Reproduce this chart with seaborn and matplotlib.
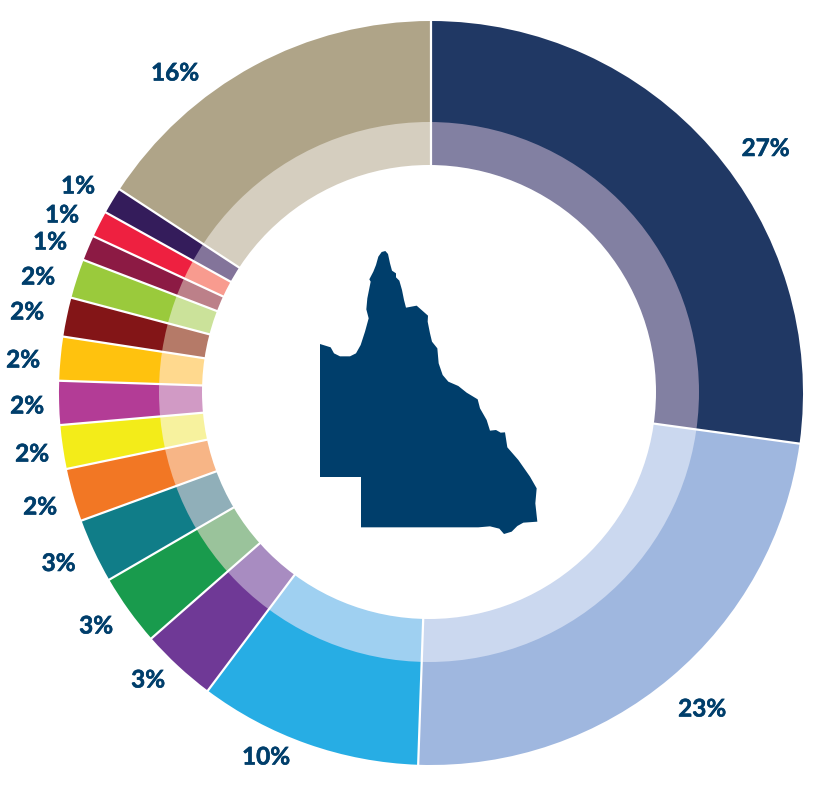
import numpy as np
import matplotlib
matplotlib.use("Agg")
import matplotlib.pyplot as plt
import matplotlib.patheffects as pe
from matplotlib.patches import Circle
import seaborn as sns

# ---- data ----
shares = [27.2, 23.4, 9.7, 3.3, 3.1, 2.8, 2.3, 1.9, 1.9, 1.9, 1.7, 1.7, 1.1, 1.15, 1.15, 15.8]
labels = ["27%", "23%", "10%", "3%", "3%", "3%", "2%", "2%", "2%", "2%", "2%", "2%", "1%", "1%", "1%", "16%"]
outer_colors = ["#203864", "#9FB7DF", "#27ADE4", "#6F3996", "#199B4D", "#107D88", "#F27724", "#F3EC19",
                "#B33C96", "#FFC20E", "#831517", "#9ACA3C", "#8C1A44", "#EE2040", "#341C5B", "#AFA488"]
inner_colors = ["#8280A2", "#CBD8EF", "#9FD0F1", "#A88CC1", "#9AC39B", "#90AFB9", "#F7B586", "#F7F29E",
                "#D19AC5", "#FFD98E", "#B57A68", "#CBE29A", "#BC8089", "#F89B8F", "#83749A", "#D5CEBF"]

# ---- layout (pixels of the 815x791 picture) ----
W, H = 815, 791
CX, CY = 431, 393          # centre of the outer ring
CX2, CY2 = 429, 392        # the pale ring sits slightly off-centre
R_OUT, R_MID, R_IN = 372, 270, 227
label_xy = [(765.5, 148.5), (702, 709), (266, 757), (148, 680), (96, 626), (58.5, 563.5), (40, 507), (32, 454),
            (27, 406), (23, 360), (27, 312), (38, 277), (50, 242), (62, 215), (78, 186), (175, 73)]
NAVY = "#003E6B"
# outline of Queensland
outline = [(30,312),(62,322),(72,340),(90,349),(120,349),(138,340),(152,315),(165,275),(176,235),(169,208),
           (172,175),(182,125),(178,118),(190,95),(198,75),(205,50),(215,36),(226,33),(234,42),(240,70),
           (246,92),(258,100),(258,112),(268,122),(276,150),(282,180),(288,203),(320,197),(354,227),(353,245),
           (360,280),(366,305),(382,325),(386,370),(398,405),(415,425),(445,438),(470,458),(503,478),(510,505),
           (530,540),(540,572),(558,570),(572,578),(585,577),(592,622),(625,660),(660,710),(680,745),(676,790),
           (682,845),(640,848),(622,858),(605,875),(582,882),(568,866),(540,859),(505,862),(153,862),(153,711),(30,711)]

sns.set_theme(style="white")
plt.rcParams["font.family"] = ["Lato", "DejaVu Sans"]

fig = plt.figure(figsize=(W / 100, H / 100), dpi=100, facecolor="white")
ax = fig.add_axes([0, 0, 1, 1])
center = (CX, H - CY)
center2 = (CX2, H - CY2)

ax.pie(shares, colors=sns.color_palette(outer_colors), radius=R_OUT, center=center, startangle=90,
       counterclock=False, normalize=True, frame=True,
       wedgeprops=dict(width=R_OUT - R_IN + 10, linewidth=0))
pale, _ = ax.pie(shares, colors=sns.color_palette(inner_colors), radius=R_MID + 10, center=center, startangle=90,
                 counterclock=False, normalize=True, frame=True,
                 wedgeprops=dict(linewidth=0))
ax.set_xlim(0, W)
ax.set_ylim(0, H)
ax.set_aspect("equal")

clip = Circle(center2, R_MID, transform=ax.transData)
for w in pale:
    w.set_clip_on(True)
    w.set_clip_path(clip)
ax.add_patch(Circle(center2, R_IN, facecolor="white", edgecolor="none", zorder=4))

# white separators between the slices
edges = np.cumsum([0] + shares[:-1]) / np.sum(shares) * 2 * np.pi
for a in edges:
    ax.plot([center[0] + (R_IN - 4) * np.sin(a), center[0] + (R_OUT + 2) * np.sin(a)],
            [center[1] + (R_IN - 4) * np.cos(a), center[1] + (R_OUT + 2) * np.cos(a)],
            color="white", lw=1.6, solid_capstyle="butt", zorder=5)

for text, (x, y) in zip(labels, label_xy):
    ax.text(x, H - y, text, color=NAVY, fontsize=17.5, fontweight="bold", ha="center", va="center",
            path_effects=[pe.withStroke(linewidth=0.4, foreground=NAVY)])

ox = [310 + p[0] / 3 for p in outline]
oy = [H - (240 + p[1] / 3) for p in outline]
ax.fill(ox, oy, color=NAVY, linewidth=0, zorder=6)

ax.set_xlim(0, W)
ax.set_ylim(0, H)
ax.axis("off")
fig.savefig("out.png", dpi=100, facecolor="white")
